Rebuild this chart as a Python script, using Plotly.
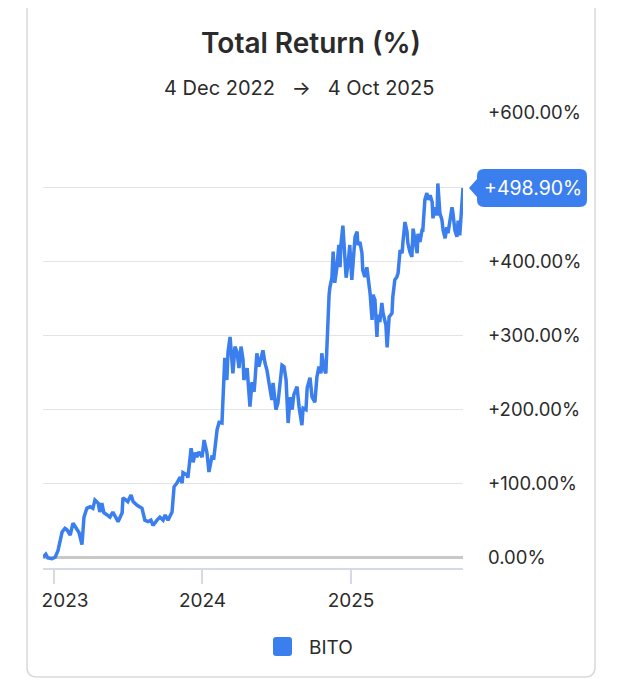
import datetime as dt
import plotly.graph_objects as go

# ---------------- data ----------------
dates = [
    "2022-12-04", "2022-12-11", "2022-12-16", "2022-12-26", "2023-01-03", "2023-01-10",
    "2023-01-20", "2023-01-27", "2023-02-01", "2023-02-09", "2023-02-16", "2023-02-26",
    "2023-03-03", "2023-03-10", "2023-03-15", "2023-03-22", "2023-03-30", "2023-04-06",
    "2023-04-11", "2023-04-19", "2023-04-23", "2023-04-28", "2023-05-03", "2023-05-11",
    "2023-05-18", "2023-05-25", "2023-06-02", "2023-06-07", "2023-06-17", "2023-06-19",
    "2023-06-27", "2023-07-01", "2023-07-09", "2023-07-14", "2023-07-24", "2023-07-29",
    "2023-08-05", "2023-08-12", "2023-08-20", "2023-08-27", "2023-09-01", "2023-09-11",
    "2023-09-18", "2023-09-26", "2023-10-01", "2023-10-08", "2023-10-18", "2023-10-23",
    "2023-10-30", "2023-11-07", "2023-11-12", "2023-11-14", "2023-11-24", "2023-11-26",
    "2023-12-04", "2023-12-09", "2023-12-14", "2023-12-18", "2023-12-23", "2023-12-31",
    "2024-01-05", "2024-01-12", "2024-01-17", "2024-01-24", "2024-01-29", "2024-02-06",
    "2024-02-11", "2024-02-18", "2024-02-21", "2024-02-25", "2024-03-01", "2024-03-04",
    "2024-03-09", "2024-03-14", "2024-03-16", "2024-03-21", "2024-03-26", "2024-03-31",
    "2024-04-05", "2024-04-10", "2024-04-12", "2024-04-20", "2024-04-22", "2024-04-27",
    "2024-05-02", "2024-05-07", "2024-05-09", "2024-05-14", "2024-05-19", "2024-05-24",
    "2024-05-29", "2024-06-03", "2024-06-08", "2024-06-13", "2024-06-20", "2024-06-23",
    "2024-06-30", "2024-07-05", "2024-07-10", "2024-07-15", "2024-07-20", "2024-07-25",
    "2024-07-30", "2024-08-04", "2024-08-09", "2024-08-13", "2024-08-21", "2024-08-26",
    "2024-09-02", "2024-09-05", "2024-09-12", "2024-09-15", "2024-09-22", "2024-09-27",
    "2024-10-04", "2024-10-09", "2024-10-14", "2024-10-19", "2024-10-21", "2024-10-26",
    "2024-10-31", "2024-11-03", "2024-11-08", "2024-11-10", "2024-11-15", "2024-11-18",
    "2024-11-20", "2024-11-22", "2024-11-27", "2024-12-02", "2024-12-05", "2024-12-07",
    "2024-12-12", "2024-12-15", "2024-12-20", "2024-12-25", "2024-12-29", "2025-01-03",
    "2025-01-06", "2025-01-11", "2025-01-16", "2025-01-18", "2025-01-23", "2025-01-28",
    "2025-01-30", "2025-02-04", "2025-02-09", "2025-02-12", "2025-02-17", "2025-02-22",
    "2025-02-24", "2025-03-01", "2025-03-06", "2025-03-08", "2025-03-13", "2025-03-18",
    "2025-03-21", "2025-03-28", "2025-03-31", "2025-04-05", "2025-04-12", "2025-04-14",
    "2025-04-19", "2025-04-24", "2025-04-27", "2025-05-02", "2025-05-07", "2025-05-09",
    "2025-05-14", "2025-05-19", "2025-05-21", "2025-05-26", "2025-05-31", "2025-06-03",
    "2025-06-08", "2025-06-13", "2025-06-15", "2025-06-20", "2025-06-25", "2025-06-27",
    "2025-07-02", "2025-07-07", "2025-07-10", "2025-07-15", "2025-07-20", "2025-07-22",
    "2025-07-27", "2025-08-01", "2025-08-03", "2025-08-08", "2025-08-13", "2025-08-16",
    "2025-08-21", "2025-08-25", "2025-08-28", "2025-09-02", "2025-09-07", "2025-09-09",
    "2025-09-14", "2025-09-19", "2025-09-22", "2025-09-26", "2025-10-04",
]

bito_return = [
    1, 5, 0, -1, 1, 10,
    35, 40, 38, 31, 47, 38,
    34, 18, 55, 67, 69, 67,
    78, 74, 62, 74, 61, 58,
    55, 62, 54, 49, 61, 81,
    78, 76, 85, 76, 71, 69,
    67, 51, 49, 51, 44, 51,
    55, 51, 58, 51, 62, 96,
    101, 109, 101, 115, 112, 108,
    148, 129, 142, 136, 143, 136,
    159, 142, 116, 136, 135, 173,
    183, 182, 231, 270, 240, 278,
    298, 271, 249, 285, 278, 256,
    285, 267, 240, 256, 236, 204,
    237, 224, 236, 276, 258, 267,
    280, 263, 253, 236, 213, 236,
    200, 209, 236, 260, 258, 240,
    182, 217, 200, 220, 231, 204,
    179, 202, 200, 229, 243, 217,
    210, 244, 258, 249, 276, 256,
    249, 298, 355, 365, 378, 413,
    388, 371, 391, 422, 392, 422,
    448, 425, 378, 398, 422, 375,
    402, 433, 440, 422, 426, 411,
    388, 379, 392, 379, 357, 321,
    355, 348, 298, 328, 318, 344,
    330, 314, 284, 325, 330, 352,
    375, 379, 384, 415, 411, 426,
    453, 440, 425, 413, 406, 444,
    429, 411, 437, 426, 442, 442,
    483, 492, 483, 489, 480, 458,
    473, 462, 505, 465, 456, 442,
    431, 446, 438, 460, 473, 466,
    442, 433, 455, 435, 498.90,
]

series_name = "BITO"
chart_title = "Total Return (%)"
x_tick_values = ["2023-01-01", "2024-01-01", "2025-01-01"]
x_tick_labels = ["2023", "2024", "2025"]
y_tick_values = [0, 100, 200, 300, 400, 500, 600]
# the +500.00% label sits under the value badge in the reference, so it is left blank
y_tick_labels = ["0.00%", "+100.00%", "+200.00%", "+300.00%", "+400.00%", "", "+600.00%"]

# ---------------- styling ----------------
BLUE = "#3b7eee"
TEXT = "#2b2b2b"
FONT = "Inter"

def fmt_date(s):
    d = dt.date.fromisoformat(s)
    return f"{d.day} {d.strftime('%b %Y')}"

# first year label is kept inside the plot's left edge, as in the reference
x_tick_text = ["\u00a0" * 4 + x_tick_labels[0]] + x_tick_labels[1:]

fig = go.Figure()
fig.add_trace(go.Scatter(
    x=dates, y=bito_return, mode="lines", name=series_name,
    line=dict(color=BLUE, width=3.5), showlegend=False,
))

last = bito_return[-1]

shapes = [
    # card border
    dict(type="path", xref="paper", yref="paper", xsizemode="pixel", ysizemode="pixel",
         xanchor=0, yanchor=0, layer="below",
         path="M -16,566 L 552,566 L 552,-99 Q 552,-109 542,-109 L -6,-109 Q -16,-109 -16,-99 Z",
         line=dict(color="#d9d9d9", width=1.5), fillcolor="rgba(0,0,0,0)"),
    # value badge
    dict(type="path", xref="paper", yref="y", xsizemode="pixel", ysizemode="pixel",
         xanchor=1, yanchor=last, layer="above",
         path="M 21,19 L 117,19 Q 124,19 124,12 L 124,-12 Q 124,-19 117,-19 L 21,-19 "
              "Q 14,-19 14,-12 L 14,-9 L 6,0 L 14,9 L 14,12 Q 14,19 21,19 Z",
         fillcolor=BLUE, line=dict(width=0)),
    # legend swatch
    dict(type="path", xref="paper", yref="paper", xsizemode="pixel", ysizemode="pixel",
         xanchor=0, yanchor=0, layer="above",
         path="M 233,-69 L 246,-69 Q 249,-69 249,-72 L 249,-85 Q 249,-88 246,-88 L 233,-88 "
              "Q 230,-88 230,-85 L 230,-72 Q 230,-69 233,-69 Z",
         fillcolor=BLUE, line=dict(width=0)),
]

annotations = [
    dict(text=f"{fmt_date(dates[0])}   \u2192   {fmt_date(dates[-1])}",
         xref="paper", yref="paper", x=0.5, xshift=46, y=1, yshift=25,
         xanchor="center", yanchor="middle", showarrow=False,
         font=dict(size=20, color=TEXT, family=FONT)),
    dict(text=f"+{last:.2f}%", xref="paper", yref="y", x=1, xshift=70, y=last,
         xanchor="center", yanchor="middle", showarrow=False,
         font=dict(size=19.5, color="white", family=FONT)),
    dict(text=series_name, xref="paper", yref="paper", x=0, xshift=264, y=0, yshift=-79,
         xanchor="left", yanchor="middle", showarrow=False,
         font=dict(size=19, color=TEXT, family=FONT)),
]

# the page adds an 8 px body margin, so the figure is 8 px smaller each way
fig.update_layout(
    width=613, height=672,
    margin=dict(l=35, r=158, t=105, b=112),
    paper_bgcolor="white", plot_bgcolor="white",
    font=dict(family=FONT, color=TEXT),
    showlegend=False,
    title=dict(text=chart_title, x=(311 - 8) / 613, xref="container", xanchor="center",
               y=1 - 35 / 672, yref="container", yanchor="middle",
               font=dict(size=28, color=TEXT, family=FONT, weight=600)),
    shapes=shapes,
    annotations=annotations,
    xaxis=dict(
        type="date", range=[dates[0], dates[-1]],
        tickvals=x_tick_values, ticktext=x_tick_text,
        showgrid=False, zeroline=False,
        showline=True, linecolor="#d4dae6", linewidth=1.5,
        ticks="outside", ticklen=14, tickcolor="#d4dae6", tickwidth=1.5,
        tickfont=dict(size=19, color=TEXT, family=FONT),
    ),
    yaxis=dict(
        side="right", range=[-13.5, 600],
        tickvals=y_tick_values, ticktext=y_tick_labels,
        showgrid=True, gridcolor="#e4e4e4", gridwidth=1,
        zeroline=True, zerolinecolor="#c8c8c8", zerolinewidth=2.5,
        showline=False, ticks="", ticklabelstandoff=24,
        tickfont=dict(size=18.5, color=TEXT, family=FONT),
    ),
)

fig.write_html("out.html")
